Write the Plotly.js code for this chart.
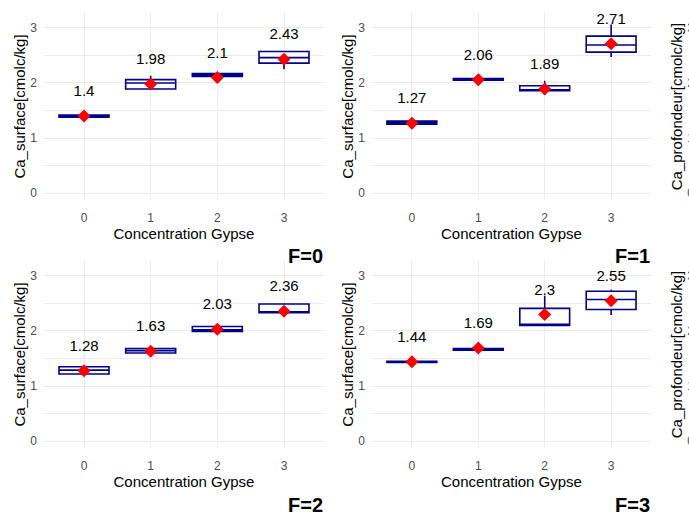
<!DOCTYPE html>
<html>
<head>
<meta charset="utf-8">
<script src="https://cdn.plot.ly/plotly-3.0.1.min.js"></script>
<style>
html, body { margin: 0; padding: 0; overflow: hidden; background: #fff; }
#wrap { width: 689px; height: 514px; overflow: hidden; position: relative; }
#chart { width: 1000px; height: 514px; }
</style>
</head>
<body>
<div id="wrap"><div id="chart"></div></div>
<script>
// ---- data ----
const categories = [0, 1, 2, 3];
const tickLabels = ['0', '1', '2', '3'];
const panelNames = ['F=0', 'F=1', 'F=2', 'F=3'];
const yTitle = 'Ca_surface[cmolc/kg]';
const yTitleRight = 'Ca_profondeur[cmolc/kg]';
const xTitle = 'Concentration Gypse';

// F=0
const lowF0  = [1.38, 1.89, 2.12, 2.25];
const q1F0   = [1.38, 1.89, 2.12, 2.36];
const medF0  = [1.40, 2.00, 2.14, 2.46];
const q3F0   = [1.42, 2.06, 2.17, 2.57];
const highF0 = [1.42, 2.13, 2.19, 2.57];
const meanF0 = [1.4, 1.98, 2.1, 2.43];

// F=1
const lowF1  = [1.25, 2.05, 1.78, 2.47];
const q1F1   = [1.25, 2.05, 1.86, 2.56];
const medF1  = [1.28, 2.07, 1.87, 2.69];
const q3F1   = [1.31, 2.08, 1.95, 2.85];
const highF1 = [1.31, 2.08, 2.04, 3.06];
const meanF1 = [1.27, 2.06, 1.89, 2.71];

// F=2
const lowF2  = [1.22, 1.60, 1.99, 2.33];
const q1F2   = [1.22, 1.60, 1.99, 2.33];
const medF2  = [1.29, 1.64, 2.02, 2.34];
const q3F2   = [1.35, 1.68, 2.08, 2.49];
const highF2 = [1.35, 1.68, 2.12, 2.49];
const meanF2 = [1.28, 1.63, 2.03, 2.36];

// F=3
const lowF3  = [1.43, 1.65, 2.10, 2.29];
const q1F3   = [1.43, 1.65, 2.10, 2.39];
const medF3  = [1.44, 1.66, 2.12, 2.57];
const q3F3   = [1.45, 1.68, 2.41, 2.72];
const highF3 = [1.45, 1.68, 2.64, 2.75];
const meanF3 = [1.44, 1.69, 2.3, 2.55];

// ---- drawing ----
const FONT = 'Liberation Sans, Arial, sans-serif';
const W = 1000, H = 514;
const BOX_COLOR = '#00008B';
const LABEL_OFFSET = 0.43;

const panels = [
  {low: lowF0, q1: q1F0, med: medF0, q3: q3F0, high: highF0, mean: meanF0},
  {low: lowF1, q1: q1F1, med: medF1, q3: q3F1, high: highF1, mean: meanF1},
  {low: lowF2, q1: q1F2, med: medF2, q3: q3F2, high: highF2, mean: meanF2},
  {low: lowF3, q1: q1F3, med: medF3, q3: q3F3, high: highF3, mean: meanF3}
];

// pixel geometry of panels
const colX = [[44, 324], [372, 651], [701, 981]];
const rowY = [[13, 200], [261, 448]];
const yRange = [-0.124, 3.27];
const fmt = v => String(v);

const traces = [];
const layout = {
  width: W, height: H,
  margin: {l: 0, r: 0, t: 0, b: 0},
  paper_bgcolor: '#ffffff', plot_bgcolor: '#ffffff',
  showlegend: false,
  font: {family: FONT, color: '#000'},
  annotations: []
};

function xAxis(col, row, yName) {
  return {
    domain: [colX[col][0] / W, colX[col][1] / W],
    anchor: yName,
    range: [-0.6, 3.6],
    tickmode: 'array', tickvals: categories, ticktext: tickLabels,
    ticks: '', showline: false, zeroline: false,
    showgrid: true, gridcolor: '#EBEBEB', gridwidth: 1,
    tickfont: {family: FONT, size: 12, color: '#4D4D4D'},
    ticklabelstandoff: 9,
    title: {text: xTitle, font: {family: FONT, size: 15, color: '#000'}, standoff: 4}
  };
}
function yAxis(col, row, xName, title) {
  return {
    domain: [(H - rowY[row][1]) / H, (H - rowY[row][0]) / H],
    anchor: xName,
    range: yRange,
    tickmode: 'linear', tick0: 0, dtick: 1,
    ticks: '', showline: false, zeroline: false,
    showgrid: true, gridcolor: '#EBEBEB', gridwidth: 1,
    minor: {tickmode: 'linear', tick0: 0, dtick: 0.5, showgrid: true, gridcolor: '#EBEBEB', gridwidth: 1},
    tickfont: {family: FONT, size: 12, color: '#4D4D4D'},
    ticklabelstandoff: 6,
    title: {text: title, font: {family: FONT, size: 15, color: '#000'}, standoff: 1}
  };
}

let axIdx = 1;
const grid = [[0, 0], [1, 0], [0, 1], [1, 1]]; // [col,row] for F=0..F=3
panels.forEach((p, i) => {
  const [col, row] = grid[i];
  const xs = axIdx === 1 ? 'x' : 'x' + axIdx;
  const ys = axIdx === 1 ? 'y' : 'y' + axIdx;
  const xk = axIdx === 1 ? 'xaxis' : 'xaxis' + axIdx;
  const yk = axIdx === 1 ? 'yaxis' : 'yaxis' + axIdx;
  layout[xk] = xAxis(col, row, ys);
  layout[yk] = yAxis(col, row, xs, yTitle);

  traces.push({
    type: 'box', xaxis: xs, yaxis: ys,
    x: categories, q1: p.q1, median: p.med, q3: p.q3,
    lowerfence: p.low, upperfence: p.high,
    width: 0.75, whiskerwidth: 0, boxpoints: false,
    fillcolor: '#ffffff', line: {color: BOX_COLOR, width: 1.6},
    hoverinfo: 'skip'
  });
  traces.push({
    type: 'scatter', mode: 'markers', xaxis: xs, yaxis: ys,
    x: categories, y: p.mean,
    marker: {symbol: 'diamond', size: 10, color: '#FF0000', line: {width: 0}},
    hoverinfo: 'skip'
  });
  traces.push({
    type: 'scatter', mode: 'text', xaxis: xs, yaxis: ys,
    x: categories, y: p.mean.map(m => m + LABEL_OFFSET),
    text: p.mean.map(fmt), textposition: 'middle center',
    textfont: {family: FONT, size: 15, color: '#000'},
    hoverinfo: 'skip', cliponaxis: false
  });

  layout.annotations.push({
    xref: 'paper', yref: 'paper',
    x: (colX[col][1] + 1) / W, xanchor: 'right',
    y: row === 0 ? (H - 256) / H : (H - 505) / H, yanchor: 'middle',
    text: '<b>' + panelNames[i] + '</b>', showarrow: false,
    font: {family: FONT, size: 20, color: '#000'}
  });
  axIdx++;
});

// third (cropped) column: Ca_profondeur axes
[0, 1].forEach(row => {
  const xs = 'x' + axIdx, ys = 'y' + axIdx;
  layout['xaxis' + axIdx] = xAxis(2, row, ys);
  layout['yaxis' + axIdx] = yAxis(2, row, xs, yTitleRight);
  traces.push({type: 'scatter', mode: 'markers', xaxis: xs, yaxis: ys, x: [], y: [], hoverinfo: 'skip'});
  axIdx++;
});

Plotly.newPlot('chart', traces, layout, {staticPlot: true, displayModeBar: false});
</script>
</body>
</html>
